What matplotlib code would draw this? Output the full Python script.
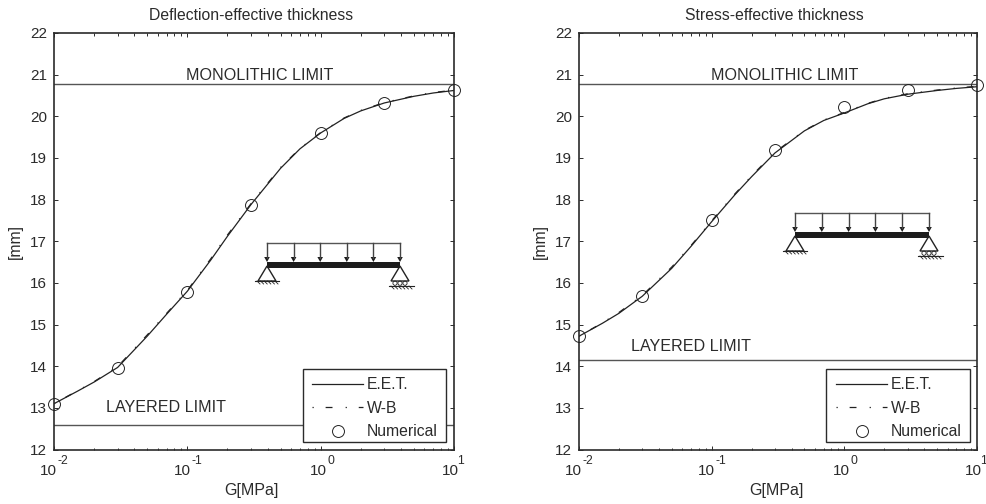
#!/usr/bin/env python3
"""Effective thickness vs. shear modulus, two panels with a beam sketch."""

import matplotlib
matplotlib.use("Agg")
import matplotlib.pyplot as plt
from matplotlib.lines import Line2D
from matplotlib.patches import Polygon, Circle, Rectangle
from matplotlib.ticker import LogLocator, NullFormatter, MultipleLocator

plt.rcParams["font.family"] = ["Liberation Sans", "DejaVu Sans"]

# ---------------------------------------------------------------------------
# Data
# ---------------------------------------------------------------------------

G_CURVE = [0.01, 0.015, 0.02, 0.03, 0.05, 0.07, 0.1, 0.15, 0.2, 0.3, 0.5, 0.7,
           1, 1.5, 2, 3, 5, 7, 10]
G_NUM = [0.01, 0.03, 0.1, 0.3, 1, 3, 10]
G_MAJOR = [0.01, 0.1, 1, 10]
G_EXPONENTS = ["-2", "-1", "0", "1"]

DEFL_EET = [13.10, 13.40, 13.62, 13.97, 14.72, 15.25, 15.80, 16.55, 17.12, 17.88,
            18.75, 19.22, 19.60, 19.95, 20.13, 20.32, 20.48, 20.56, 20.62]
DEFL_WB = [13.10, 13.41, 13.63, 13.99, 14.75, 15.27, 15.82, 16.58, 17.15, 17.90,
           18.77, 19.23, 19.61, 19.96, 20.14, 20.33, 20.49, 20.57, 20.63]
DEFL_NUM = [13.10, 13.95, 15.78, 17.88, 19.60, 20.32, 20.62]
DEFL_MONO = 20.77
DEFL_LAYER = 12.60

STRESS_EET = [14.72, 15.03, 15.27, 15.68, 16.35, 16.88, 17.47, 18.12, 18.55, 19.12,
              19.65, 19.90, 20.08, 20.30, 20.42, 20.53, 20.62, 20.67, 20.71]
STRESS_WB = [14.72, 15.04, 15.29, 15.70, 16.38, 16.90, 17.49, 18.14, 18.57, 19.14,
             19.66, 19.91, 20.09, 20.31, 20.43, 20.54, 20.63, 20.68, 20.72]
STRESS_NUM = [14.72, 15.68, 17.50, 19.20, 20.22, 20.62, 20.74]
STRESS_MONO = 20.77
STRESS_LAYER = 14.14

DARK = "#2b2b2b"
W, H = 987, 504


def setup_axes(fig, left, right, title, title_x, xlabel_x):
    top, bottom = 33, 449.5
    ax = fig.add_axes([left / W, 1 - bottom / H, (right - left) / W, (bottom - top) / H])
    ax.set_xscale("log")
    ax.set_xlim(0.01, 10)
    ax.set_ylim(12, 22)
    ax.yaxis.set_major_locator(MultipleLocator(1))
    ax.xaxis.set_major_locator(LogLocator(base=10, numticks=6))
    ax.xaxis.set_minor_locator(LogLocator(base=10, subs=range(2, 10), numticks=6))
    ax.xaxis.set_major_formatter(NullFormatter())
    ax.xaxis.set_minor_formatter(NullFormatter())
    ax.tick_params(which="major", direction="in", top=True, right=True, length=3,
                   width=0.7, color=DARK, labelsize=11, labelcolor=DARK, pad=5)
    ax.tick_params(which="minor", direction="in", top=True, right=True, length=1.8,
                   width=0.7, color=DARK)
    for sp in ax.spines.values():
        sp.set_linewidth(1.2)
        sp.set_color(DARK)

    # MATLAB style decade labels, hyphen instead of a minus sign
    xform = ax.get_xaxis_transform()
    for g, exp in zip(G_MAJOR, G_EXPONENTS):
        if exp == "1":
            shift, sup_x, sup_ha = 3.2, 7.1, "right"   # keeps it inside the image edge
        elif exp.startswith("-"):
            shift, sup_x, sup_ha = 2.4, 2.8, "left"
        else:
            shift, sup_x, sup_ha = 4.3, 4.7, "left"
        ax.annotate("10", (g, 0), xycoords=xform, xytext=(shift, -15.6), textcoords="offset points",
                    ha="right", va="center", fontsize=11, color=DARK, annotation_clip=False)
        ax.annotate(exp, (g, 0), xycoords=xform, xytext=(sup_x, -8), textcoords="offset points",
                    ha=sup_ha, va="center", fontsize=8.8, color=DARK, annotation_clip=False)

    fig.text(title_x / W, 1 - 16 / H, title, fontsize=11.3, color=DARK, ha="center", va="center")
    fig.text(xlabel_x / W, 1 - 491 / H, "G[MPa]", fontsize=11.5, color=DARK, ha="center", va="center")
    ax.set_ylabel("[mm]", fontsize=11.3, color=DARK)
    ax.yaxis.set_label_coords(-31 / (right - left), 0.5)
    return ax


def plot_panel(fig, ax, eet, wb, num, mono, layer, layer_text_y, box_left, box_right):
    wb_dash = (0, (1.0, 9.5, 5.5, 10.5))
    ax.axhline(mono, color="#555555", lw=1.0, zorder=1)
    ax.axhline(layer, color="#555555", lw=1.0, zorder=1)
    ax.plot(G_CURVE, eet, color="#222222", lw=0.9, zorder=2)
    ax.plot(G_CURVE, wb, color="#222222", lw=0.9, ls=wb_dash, zorder=2)
    ax.plot(G_NUM, num, ls="none", marker="o", ms=8.6, mfc="none", mec="#222222",
            mew=0.7, clip_on=False, zorder=3)
    ax.text(0.098, 20.97, "MONOLITHIC LIMIT", fontsize=11.6, color=DARK, va="center")
    ax.text(0.0245, layer_text_y, "LAYERED LIMIT", fontsize=11.6, color=DARK, va="center")

    # legend frame drawn apart, its padding is not even on all sides
    box_top, box_bottom = 369, 441.5
    ax.add_patch(Rectangle((box_left / W, 1 - box_bottom / H), (box_right - box_left) / W,
                           (box_bottom - box_top) / H, transform=fig.transFigure,
                           fc="white", ec=DARK, lw=1.0, zorder=4))
    handles = [
        Line2D([], [], color="#222222", lw=0.9),
        Line2D([], [], color="#222222", lw=0.9, ls=wb_dash),
        Line2D([], [], ls="none", marker="o", ms=8.6, mfc="none", mec="#222222", mew=0.7),
    ]
    ax.legend(handles, ["E.E.T.", "W-B", "Numerical"], loc="lower right",
              bbox_to_anchor=((box_right - 8) / W, 1 - 439 / H), bbox_transform=fig.transFigure,
              borderaxespad=0, borderpad=0, fontsize=11.3, frameon=False, handlelength=3.25,
              handletextpad=0.25, labelspacing=0.535, labelcolor=DARK)


def ground(ov, x0, x1, y):
    ov.plot([x0, x1], [y, y], color="#222222", lw=0.8)
    n = int((x1 - x0) / 3.6)
    for i in range(n):
        gx = x0 + 2 + i * 3.6
        ov.plot([gx, gx + 3], [y, y + 3], color="#222222", lw=0.6)


def draw_beam(ov, x0, x1, y_top, y_beam):
    """Simply supported beam with uniform load, in figure pixels."""
    ov.plot([x0, x1], [y_top, y_top], color="#555555", lw=1.0)
    ov.add_patch(Rectangle((x0, y_beam - 3), x1 - x0, 6, color="#1c1c1c", lw=0))
    for i in range(6):
        ax_x = x0 + (x1 - x0) * i / 5
        ov.plot([ax_x, ax_x], [y_top, y_beam - 7], color="#444444", lw=1.0)
        ov.add_patch(Polygon([(ax_x - 2.8, y_beam - 8), (ax_x + 2.8, y_beam - 8),
                              (ax_x, y_beam - 3)], color="#1c1c1c", lw=0))
    # pinned support
    ov.add_patch(Polygon([(x0, y_beam + 1), (x0 - 9, y_beam + 16), (x0 + 9, y_beam + 16)],
                         fill=False, ec="#222222", lw=1.0))
    ground(ov, x0 - 12, x0 + 12, y_beam + 16)
    # roller support
    ov.add_patch(Polygon([(x1, y_beam + 1), (x1 - 9, y_beam + 16), (x1 + 9, y_beam + 16)],
                         fill=False, ec="#222222", lw=1.0))
    for dx in (-5, 0, 5):
        ov.add_patch(Circle((x1 + dx, y_beam + 18.2), 2.1, fill=False, ec="#222222", lw=0.6))
    ground(ov, x1 - 11, x1 + 14, y_beam + 21)


fig = plt.figure(figsize=(W / 100, H / 100), dpi=100)

ax1 = setup_axes(fig, 54, 454, "Deflection-effective thickness", 251, 251)
plot_panel(fig, ax1, DEFL_EET, DEFL_WB, DEFL_NUM, DEFL_MONO, DEFL_LAYER, 13.02, 303, 446)

ax2 = setup_axes(fig, 579, 977, "Stress-effective thickness", 774, 776)
plot_panel(fig, ax2, STRESS_EET, STRESS_WB, STRESS_NUM, STRESS_MONO, STRESS_LAYER, 14.48, 826, 970)

overlay = fig.add_axes([0, 0, 1, 1], facecolor="none")
overlay.set_xlim(0, W)
overlay.set_ylim(H, 0)
overlay.axis("off")
draw_beam(overlay, 267, 400, 243, 265)
draw_beam(overlay, 795, 929, 213, 235)

fig.savefig("out.png", dpi=100)
